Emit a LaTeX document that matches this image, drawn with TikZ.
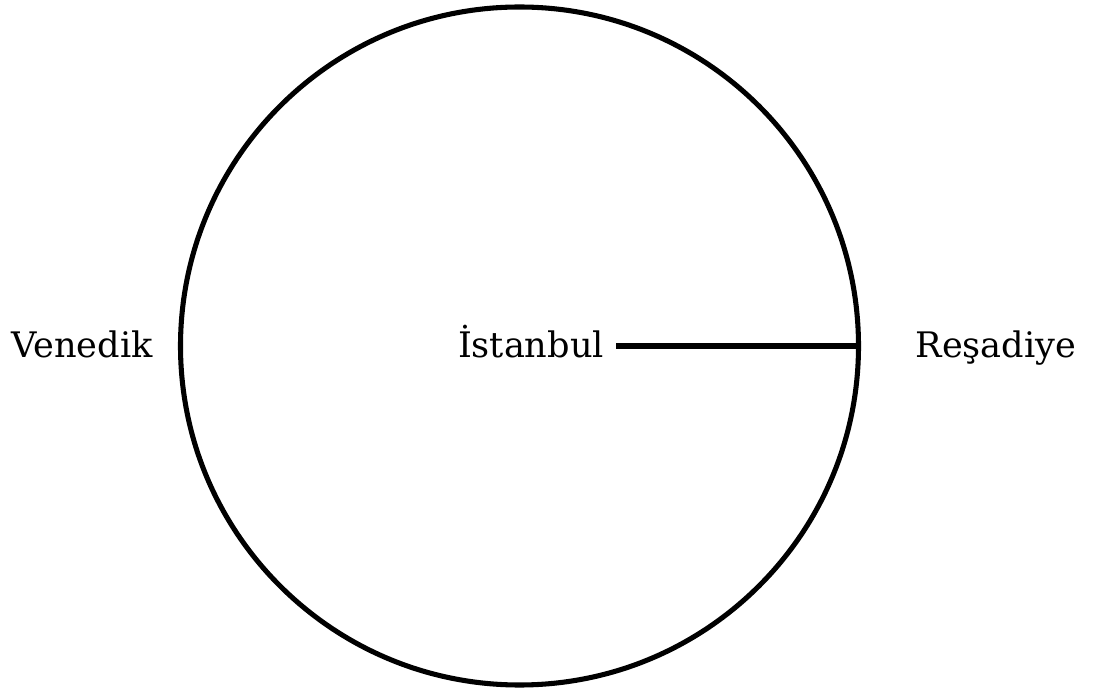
\documentclass[tikz,border=0pt]{standalone}
\usepackage{fontspec}
\setmainfont{DejaVu Serif}
\usetikzlibrary{positioning}

\begin{document}
\begin{tikzpicture}[
  place/.style={font=\fontsize{25}{30}\selectfont, anchor=base},
  ring/.style={draw, circle, line width=3.6pt, minimum size=16.95cm, inner sep=0pt}
]
\useasboundingbox (0,0) rectangle (27.45,17.4);
\node [ring] (world) at (12.9875,8.75) {};
\node [place] (venedik) at (2.05,8.45) {Venedik};
\node [place] (istanbul) at (13.275,8.45) {İstanbul};
\node [place] (resadiye) at (24.9,8.45) {Reşadiye};

\draw [line width=3.6pt, shorten <=0.18cm] (istanbul.east |- world.center) -- (world.east);
\end{tikzpicture}
\end{document}
